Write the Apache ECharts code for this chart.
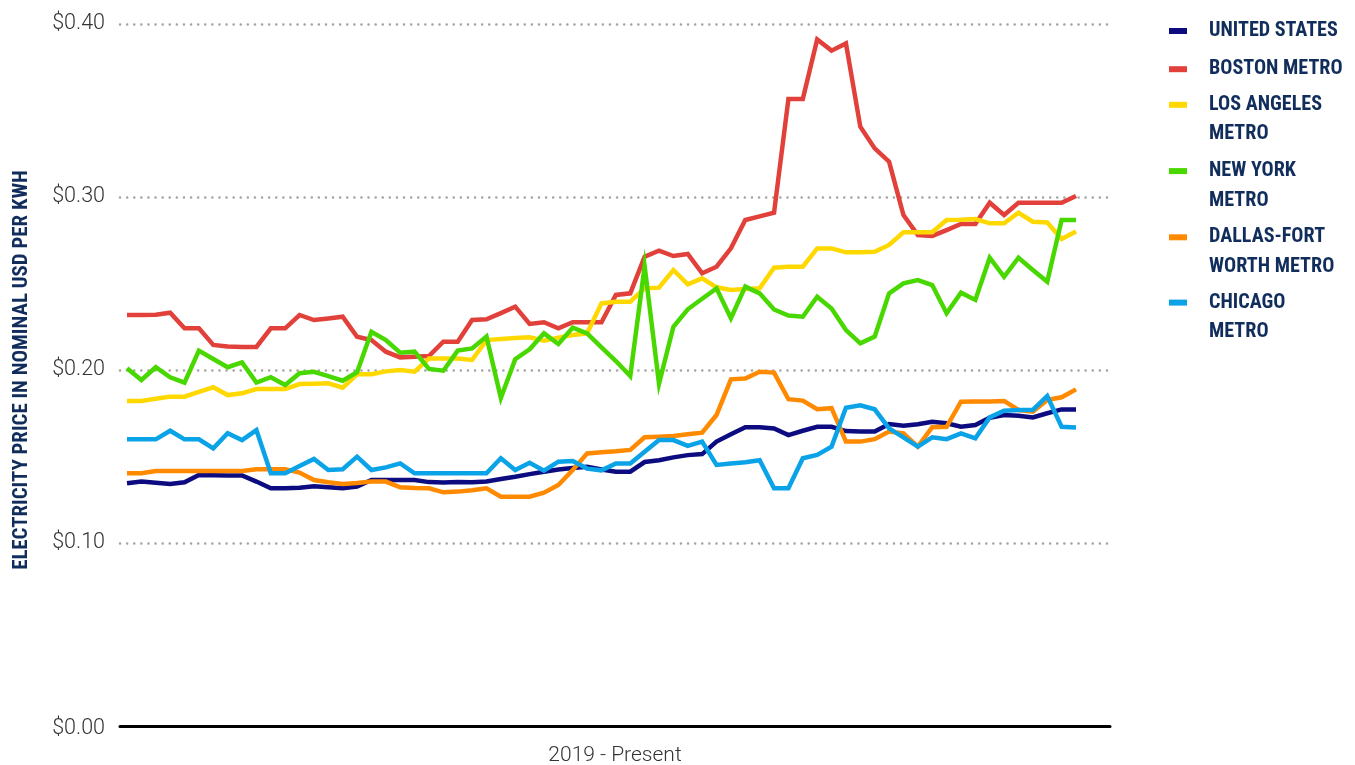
<!DOCTYPE html>
<html>
<head>
<meta charset="utf-8">
<script src="https://cdn.jsdelivr.net/npm/echarts@6/dist/echarts.min.js"></script>
<style>
html,body{margin:0;padding:0;background:#ffffff;}
#chart{width:1355px;height:765px;}
</style>
</head>
<body>
<div id="chart"></div>
<script>
// ---------- DATA ----------
const startYear = 2019, monthCount = 67; // Jan 2019 .. Jul 2024
const months = [];
for (let i = 0; i < monthCount; i++) {
  const y = startYear + Math.floor(i / 12), m = (i % 12) + 1;
  months.push(y + '-' + (m < 10 ? '0' + m : m));
}

const seriesNames = ['UNITED STATES', 'BOSTON METRO', 'LOS ANGELES METRO', 'NEW YORK METRO', 'DALLAS-FORT WORTH METRO', 'CHICAGO METRO'];
const legendLabels = ['UNITED STATES', 'BOSTON METRO', 'LOS ANGELES\nMETRO', 'NEW YORK\nMETRO', 'DALLAS-FORT\nWORTH METRO', 'CHICAGO\nMETRO'];

const unitedStates = [
  0.1345,0.1355,0.1348,0.1341,0.1351,0.1393,0.1391,0.1390,0.1390,0.1355,
  0.1316,0.1316,0.1320,0.1328,0.1322,0.1316,0.1326,0.1364,0.1364,0.1364,
  0.1364,0.1352,0.1350,0.1352,0.1351,0.1356,0.1370,0.1383,0.1398,0.1412,
  0.1425,0.1434,0.1441,0.1425,0.1412,0.1412,0.1468,0.1478,0.1495,0.1508,
  0.1514,0.1586,0.1629,0.1669,0.1669,0.1662,0.1624,0.1649,0.1672,0.1672,
  0.1647,0.1644,0.1644,0.1688,0.1678,0.1686,0.1701,0.1692,0.1672,0.1682,
  0.1724,0.1740,0.1735,0.1726,0.1750,0.1772,0.1772
];
const bostonMetro = [
  0.2318,0.2318,0.2320,0.2331,0.2241,0.2241,0.2145,0.2136,0.2133,0.2133,
  0.2241,0.2241,0.2318,0.2289,0.2298,0.2308,0.2192,0.2173,0.2106,0.2073,
  0.2077,0.2081,0.2164,0.2164,0.2289,0.2293,0.2329,0.2366,0.2266,0.2276,
  0.2241,0.2276,0.2276,0.2276,0.2434,0.2443,0.2655,0.2690,0.2659,0.2671,
  0.2559,0.2597,0.2703,0.2867,0.2888,0.2909,0.3566,0.3566,0.3911,0.3846,
  0.3888,0.3406,0.3281,0.3204,0.2896,0.2780,0.2775,0.2809,0.2844,0.2844,
  0.2967,0.2896,0.2967,0.2967,0.2967,0.2967,0.3006
];
const losAngelesMetro = [
  0.1821,0.1821,0.1834,0.1846,0.1846,0.1873,0.1900,0.1855,0.1865,0.1890,
  0.1890,0.1890,0.1919,0.1921,0.1923,0.1898,0.1975,0.1975,0.1992,0.2000,
  0.1990,0.2067,0.2067,0.2067,0.2058,0.2173,0.2179,0.2185,0.2189,0.2169,
  0.2187,0.2202,0.2212,0.2385,0.2395,0.2395,0.2472,0.2476,0.2578,0.2495,
  0.2530,0.2478,0.2462,0.2468,0.2472,0.2591,0.2597,0.2597,0.2703,0.2703,
  0.2680,0.2680,0.2684,0.2723,0.2796,0.2796,0.2796,0.2867,0.2869,0.2873,
  0.2848,0.2848,0.2909,0.2857,0.2853,0.2757,0.2800
];
const newYorkMetro = [
  0.2010,0.1942,0.2016,0.1958,0.1927,0.2112,0.2064,0.2016,0.2044,0.1927,
  0.1958,0.1913,0.1981,0.1990,0.1965,0.1938,0.1987,0.2221,0.2173,0.2100,
  0.2106,0.2006,0.1996,0.2112,0.2125,0.2193,0.1838,0.2062,0.2120,0.2212,
  0.2150,0.2245,0.2212,0.2131,0.2052,0.1965,0.2600,0.1920,0.2250,0.2351,
  0.2412,0.2472,0.2299,0.2482,0.2443,0.2350,0.2315,0.2308,0.2424,0.2356,
  0.2231,0.2154,0.2193,0.2443,0.2501,0.2520,0.2491,0.2328,0.2447,0.2405,
  0.2649,0.2539,0.2649,0.2578,0.2510,0.2867,0.2867
];
const dallasFortWorthMetro = [
  0.1403,0.1403,0.1416,0.1416,0.1416,0.1416,0.1416,0.1416,0.1416,0.1426,
  0.1426,0.1426,0.1407,0.1364,0.1351,0.1341,0.1347,0.1355,0.1355,0.1322,
  0.1318,0.1316,0.1293,0.1297,0.1305,0.1316,0.1268,0.1268,0.1268,0.1291,
  0.1335,0.1422,0.1518,0.1524,0.1530,0.1538,0.1611,0.1614,0.1618,0.1628,
  0.1638,0.1740,0.1946,0.1951,0.1990,0.1985,0.1831,0.1823,0.1773,0.1779,
  0.1586,0.1586,0.1600,0.1644,0.1634,0.1557,0.1669,0.1672,0.1817,0.1818,
  0.1818,0.1821,0.1769,0.1759,0.1827,0.1842,0.1888
];
const chicagoMetro = [
  0.1599,0.1599,0.1599,0.1649,0.1599,0.1599,0.1547,0.1634,0.1595,0.1653,
  0.1403,0.1403,0.1445,0.1486,0.1422,0.1426,0.1499,0.1422,0.1437,0.1460,
  0.1403,0.1403,0.1403,0.1403,0.1403,0.1403,0.1490,0.1422,0.1464,0.1418,
  0.1470,0.1474,0.1430,0.1420,0.1460,0.1460,0.1528,0.1595,0.1595,0.1561,
  0.1586,0.1451,0.1460,0.1467,0.1478,0.1316,0.1316,0.1490,0.1509,0.1557,
  0.1782,0.1796,0.1773,0.1663,0.1611,0.1557,0.1611,0.1600,0.1634,0.1605,
  0.1726,0.1765,0.1769,0.1769,0.1850,0.1672,0.1668
];
const seriesValues = [unitedStates, bostonMetro, losAngelesMetro, newYorkMetro, dallasFortWorthMetro, chicagoMetro];

const yTickLabels = ['$0.00', '$0.10', '$0.20', '$0.30', '$0.40'];
const yAxisTitle = 'ELECTRICITY PRICE IN NOMINAL USD PER KWH';
const xAxisTitle = '2019 - Present';

// ---------- STYLE ----------
const colors = ['#0c0c80', '#e2403a', '#ffd800', '#48d800', '#ff8a00', '#0aa3e8'];
const navyText = '#112d5c';

// pick a condensed bold family if one is installed
const ctx = document.createElement('canvas').getContext('2d');
function textW(font, t) { ctx.font = font; return ctx.measureText(t).width; }
function installed(fam) {
  const t = 'WMwmIil10 ABCDEFGHIJKLMNOPQRSTUVWXYZ';
  return ['monospace', 'serif'].some(b => Math.abs(textW('bold 40px "' + fam + '", ' + b, t) - textW('bold 40px ' + b, t)) > 0.5);
}
const condCandidates = ['Roboto Condensed', 'Liberation Sans Narrow', 'DejaVu Sans Condensed', 'Noto Sans Condensed', 'Open Sans Condensed', 'Roboto'];
const condFam = condCandidates.find(installed) || 'sans-serif';
function fitSize(t, target, cap) {
  const s = 100 * target / textW('bold 100px "' + condFam + '"', t);
  return Math.min(s, cap);
}
const legendSize = fitSize('UNITED STATES', 129, 25);
const yNameSize = fitSize(yAxisTitle, 400, 24);
const LH = 29.5;
const legendCenters = [31, 69.2, 104.8, 171.1, 237.3, 302.6];

const chart = echarts.init(document.getElementById('chart'), null, { renderer: 'canvas' });

const legends = seriesNames.map((n, i) => {
  const multi = legendLabels[i].indexOf('\n') >= 0;
  const txt = (multi ? '\n' : '') + legendLabels[i];
  const h = (multi ? 3 : 1) * LH;
  return {
    show: true,
    data: [n],
    left: 1169,
    top: legendCenters[i] - h / 2,
    padding: 0,
    orient: 'vertical',
    icon: 'rect',
    itemWidth: 18,
    itemHeight: 6,
    selectedMode: false,
    formatter: () => txt,
    textStyle: {
      color: navyText,
      fontFamily: condFam,
      fontWeight: 'bold',
      fontSize: legendSize,
      lineHeight: LH,
      padding: [0, 0, 0, 17]
    }
  };
});

const option = {
  animation: false,
  backgroundColor: '#ffffff',
  color: colors,
  grid: { left: 120, right: 245, top: 24, bottom: 49, containLabel: false, outerBoundsMode: 'none' },
  legend: legends,
  xAxis: {
    type: 'value',
    min: -0.487,
    max: 68.365,
    offset: 10,
    axisLine: { show: true, onZero: false, lineStyle: { color: '#000000', width: 3 } },
    axisTick: { show: false },
    axisLabel: { show: false },
    splitLine: { show: false },
    name: xAxisTitle,
    nameLocation: 'middle',
    nameGap: 19,
    nameTextStyle: { fontSize: 21, color: '#333333', fontFamily: 'Roboto', fontWeight: 300 }
  },
  yAxis: {
    type: 'value',
    min: 0,
    max: 0.4,
    interval: 0.1,
    axisLine: { show: false },
    axisTick: { show: false },
    axisLabel: {
      margin: 15,
      fontSize: 21.5,
      color: '#333333',
      fontFamily: 'Roboto',
      fontWeight: 300,
      formatter: (v) => {
        const idx = Math.round(v * 10);
        return idx === 0 ? '{z|' + yTickLabels[0] + '}' : yTickLabels[idx];
      },
      rich: {
        z: { fontSize: 21.5, color: '#333333', fontFamily: 'Roboto', fontWeight: 300, padding: [26, 0, 0, 0] }
      }
    },
    splitLine: {
      show: true,
      showMinLine: false,
      lineStyle: { color: '#a4a4a4', width: 2.5, type: [0.1, 7], cap: 'round' }
    },
    name: yAxisTitle,
    nameLocation: 'middle',
    nameRotate: 90,
    nameGap: 88,
    nameTextStyle: { fontSize: yNameSize, color: navyText, fontFamily: condFam, fontWeight: 'bold' }
  },
  series: seriesNames.map((n, i) => ({
    name: n,
    type: 'line',
    showSymbol: false,
    symbol: 'none',
    data: seriesValues[i].map((v, k) => [k, v]),
    lineStyle: { width: 4.5, color: colors[i], join: 'miter' },
    itemStyle: { color: colors[i] },
    emphasis: { disabled: true },
    z: 2 + i
  }))
};
chart.setOption(option);
</script>
</body>
</html>
